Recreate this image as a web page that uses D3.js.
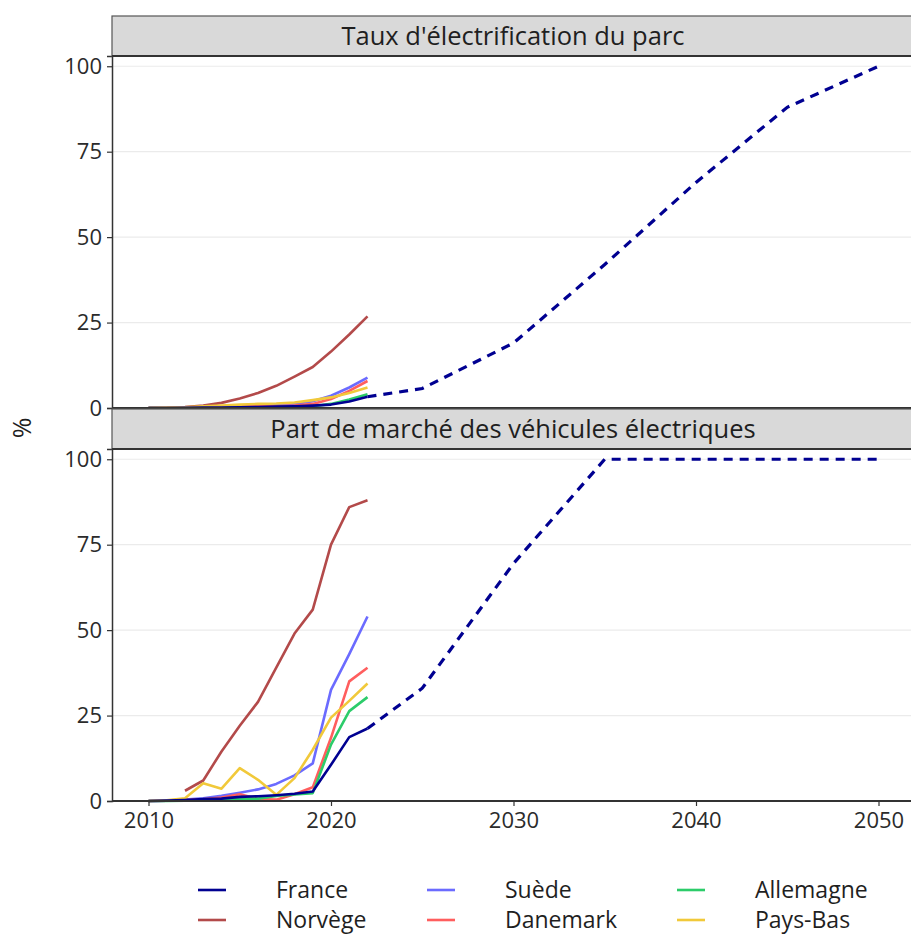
<!DOCTYPE html>
<html>
<head>
<meta charset="utf-8">
<script src="https://cdn.jsdelivr.net/npm/d3@7"></script>
<style>
  body { margin: 0; background: #fff; }
  svg { display: block; font-family: "Open Sans", "Noto Sans", sans-serif; }
</style>
</head>
<body>
<div id="Area"></div>
<script>
// years of observed data
var years = [2010, 2011, 2012, 2013, 2014, 2015, 2016, 2017, 2018, 2019, 2020, 2021, 2022];

var countries = ["France", "Norvège", "Suède", "Danemark", "Allemagne", "Pays-Bas"];
var colors = ["#000091", "#b34a4a", "#6b6bff", "#ff5e5e", "#2ccc6a", "#f1c93a"];

// Taux d'électrification du parc (%)
var parcFrance   = [0, 0, 0.05, 0.1, 0.15, 0.2, 0.3, 0.4, 0.5, 0.7, 1.0, 1.9, 3.3];
var parcNorvege  = [0.05, 0.1, 0.3, 0.7, 1.5, 2.8, 4.4, 6.5, 9.2, 12.0, 16.5, 21.5, 26.8];
var parcSuede    = [0, 0, 0.05, 0.1, 0.2, 0.3, 0.5, 0.8, 1.2, 2.0, 3.6, 6.0, 8.9];
var parcDanemark = [0, 0.05, 0.1, 0.2, 0.3, 0.5, 0.5, 0.5, 0.7, 1.2, 2.6, 5.0, 7.9];
var parcAllemagne = [0, 0, 0, 0.05, 0.1, 0.1, 0.15, 0.2, 0.3, 0.5, 1.2, 2.5, 4.0];
var parcPaysBas  = [0, 0.05, 0.2, 0.5, 0.7, 1.0, 1.2, 1.3, 1.6, 2.3, 3.1, 4.4, 6.0];

// Part de marché des véhicules électriques (%)
var pdmFrance    = [0, 0.1, 0.3, 0.6, 0.7, 1.2, 1.4, 1.7, 2.1, 2.8, 10.6, 18.7, 21.2];
var pdmNorvege   = [null, null, 3, 6, 14.5, 22, 29, 39, 49, 56, 75, 86, 88];
var pdmSuede     = [0, 0.1, 0.4, 0.8, 1.5, 2.4, 3.4, 5.0, 7.5, 11, 32.5, 43, 54];
var pdmDanemark  = [0, 0.1, 0.3, 0.5, 1.0, 2.0, 0.6, 0.4, 2.0, 4.0, 18.5, 35, 39];
var pdmAllemagne = [0, 0, 0.1, 0.2, 0.4, 0.7, 0.7, 1.5, 1.9, 2.3, 16.5, 26.3, 30.4];
var pdmPaysBas   = [0, 0.2, 0.8, 5.2, 3.6, 9.6, 6.2, 1.8, 6.7, 15, 24.4, 29.3, 34.4];

// France trajectory (dashed)
var projYears = [2022, 2025, 2030, 2035, 2040, 2045, 2050];
var projParc  = [3.3, 5.7, 19, 42, 66, 88, 100];
var projPdm   = [21.2, 33, 69.5, 100, 100, 100, 100];

var yTicks = [0, 25, 50, 75, 100];
var xTicks = [2010, 2020, 2030, 2040, 2050];

var panels = [
  {title: "Taux d'électrification du parc", series: [parcFrance, parcNorvege, parcSuede, parcDanemark, parcAllemagne, parcPaysBas], proj: projParc},
  {title: "Part de marché des véhicules électriques", series: [pdmFrance, pdmNorvege, pdmSuede, pdmDanemark, pdmAllemagne, pdmPaysBas], proj: projPdm}
];

var W = 911, H = 936;
var left = 112, right = 915;
var stripH = 40;
var panelTop = [16, 409];
var panelH = 352;

var svg = d3.select("#Area")
  .append("svg")
    .attr("width", W)
    .attr("height", H);

var x = d3.scaleLinear()
    .domain([2008, 2052])
    .range([left, right]);

panels.forEach(function(p, k) {
  var top = panelTop[k] + stripH;
  var y = d3.scaleLinear()
      .domain([0, 103])
      .range([top + panelH, top]);

  var g = svg.append("g");

  // grid
  g.selectAll(".grid")
    .data(yTicks)
    .enter()
    .append("line")
      .attr("x1", left).attr("x2", right)
      .attr("y1", function(d){ return y(d) })
      .attr("y2", function(d){ return y(d) })
      .attr("stroke", "#ebebeb")
      .attr("stroke-width", 1.2);

  // y axis
  var ya = g.append("g")
    .attr("transform", "translate(" + left + ",0)")
    .call(d3.axisLeft(y).tickValues(yTicks).tickSize(5).tickPadding(5));
  ya.select(".domain").attr("stroke", "#333").attr("stroke-width", 1.5);
  ya.selectAll(".tick line").attr("stroke", "#333").attr("stroke-width", 1.2);
  ya.selectAll("text").attr("font-size", 22).attr("fill", "#2b2b2b").attr("font-family", "'Open Sans', sans-serif");

  // country lines
  var line = d3.line()
    .defined(function(d){ return d.v != null })
    .x(function(d){ return x(d.t) })
    .y(function(d){ return y(d.v) });

  var order = [1, 2, 3, 4, 5, 0];
  order.forEach(function(i) {
    var pts = years.map(function(t, j){ return {t: t, v: p.series[i][j]} });
    g.append("path")
      .attr("d", line(pts))
      .attr("fill", "none")
      .attr("stroke", colors[i])
      .attr("stroke-width", 2.6)
      .attr("stroke-linejoin", "round");
  });

  var proj = projYears.map(function(t, j){ return {t: t, v: p.proj[j]} });
  g.append("path")
    .attr("d", line(proj))
    .attr("fill", "none")
    .attr("stroke", colors[0])
    .attr("stroke-width", 3.2)
    .attr("stroke-dasharray", "9,7");

  // bottom axis line
  g.append("line")
    .attr("x1", left).attr("x2", right)
    .attr("y1", y(0)).attr("y2", y(0))
    .attr("stroke", "#333").attr("stroke-width", 2);

  // strip
  g.append("rect")
    .attr("x", left).attr("y", panelTop[k])
    .attr("width", right - left).attr("height", stripH)
    .attr("fill", "#d9d9d9")
    .attr("stroke", "#555").attr("stroke-width", 1.2);
  g.append("line")
    .attr("x1", left).attr("x2", right)
    .attr("y1", top).attr("y2", top)
    .attr("stroke", "#333").attr("stroke-width", 2.2);
  g.append("text")
    .attr("x", 513).attr("y", panelTop[k] + stripH / 2)
    .attr("dy", "0.35em")
    .attr("text-anchor", "middle")
    .attr("font-size", 25.5)
    .attr("fill", "#1f1f1f")
    .text(p.title);

  if (k == 1) {
    var xa = g.append("g")
      .attr("transform", "translate(0," + y(0) + ")")
      .call(d3.axisBottom(x).tickValues(xTicks).tickFormat(d3.format("d")).tickSize(5).tickPadding(6));
    xa.select(".domain").remove();
    xa.selectAll(".tick line").attr("stroke", "#333").attr("stroke-width", 1.2);
    xa.selectAll("text").attr("font-size", 22).attr("fill", "#2b2b2b").attr("font-family", "'Open Sans', sans-serif");
  }
});

// y title
svg.append("text")
  .attr("transform", "translate(31,428) rotate(-90)")
  .attr("text-anchor", "middle")
  .attr("font-size", 25)
  .attr("fill", "#1f1f1f")
  .text("%");

// legend, 3 columns x 2 rows
var legCols = [198, 427, 677];
var legRows = [890, 920];
var leg = svg.append("g")
  .selectAll("g")
  .data(countries)
  .enter()
  .append("g")
    .attr("transform", function(d, i){ return "translate(" + legCols[Math.floor(i / 2)] + "," + legRows[i % 2] + ")" });
leg.append("line")
  .attr("x1", 0).attr("x2", 28)
  .attr("stroke", function(d, i){ return colors[i] })
  .attr("stroke-width", 2.6);
leg.append("text")
  .attr("x", 78).attr("dy", "0.35em")
  .attr("font-size", 23)
  .attr("fill", "#1f1f1f")
  .text(function(d){ return d });
</script>
</body>
</html>
